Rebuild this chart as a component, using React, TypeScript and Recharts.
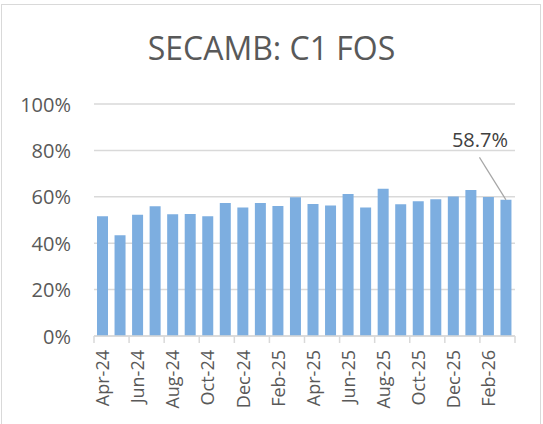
import React from 'react';
import { BarChart, Bar, XAxis, YAxis, CartesianGrid, LabelList } from 'recharts';

// monthly C1 FOS share, Apr-24 .. Mar-26
const months = [
  'Apr-24', 'May-24', 'Jun-24', 'Jul-24', 'Aug-24', 'Sep-24', 'Oct-24', 'Nov-24',
  'Dec-24', 'Jan-25', 'Feb-25', 'Mar-25', 'Apr-25', 'May-25', 'Jun-25', 'Jul-25',
  'Aug-25', 'Sep-25', 'Oct-25', 'Nov-25', 'Dec-25', 'Jan-26', 'Feb-26', 'Mar-26',
];
const fosValues = [
  51.6, 43.4, 52.3, 55.9, 52.5, 52.6, 51.6, 57.3, 55.4, 57.3, 56.0, 59.8,
  56.9, 56.3, 61.2, 55.4, 63.5, 56.8, 58.1, 58.9, 60.1, 62.9, 59.9, 58.7,
];
const yTicks = [0, 20, 40, 60, 80, 100];

const data = months.map((m, i) => ({ month: m, fos: fosValues[i] }));

const W = 543;
const H = 424;
const Y_AXIS_W = 94;
const RIGHT = 28;
const BAND = (W - Y_AXIS_W - RIGHT) / months.length;
const TEXT = '#595959';
const GRID = '#d9d9d9';
const FONT = '"Open Sans", sans-serif';

const YTick = (props: any) => {
  const { y, payload } = props;
  return (
    <text x={71} y={y} dy={7.5} textAnchor="end" fill={TEXT} fontSize={20} fontFamily={FONT}>
      {payload.value}%
    </text>
  );
};

const XTick = (props: any) => {
  const { x, y, payload } = props;
  const axisY = y - 8;
  const left = x - BAND / 2;
  const isLast = payload.value === months[months.length - 2];
  return (
    <g>
      <line x1={left} y1={axisY} x2={left} y2={axisY + 7} stroke={GRID} strokeWidth={1.5} />
      {isLast && (
        <line x1={left + BAND * 2} y1={axisY} x2={left + BAND * 2} y2={axisY + 7} stroke={GRID} strokeWidth={1.5} />
      )}
      <text
        x={x}
        y={axisY + 14}
        dy="0.36em"
        textAnchor="end"
        transform={`rotate(-90, ${x}, ${axisY + 14})`}
        fill={TEXT}
        fontSize={18}
        fontFamily={FONT}
      >
        {payload.value}
      </text>
    </g>
  );
};

const LastLabel = (props: any) => {
  const { x, y, width, index, value } = props;
  if (index !== fosValues.length - 1) return null;
  const cx = x + width / 2;
  return (
    <g>
      <line x1={cx} y1={y} x2={cx - 26.5} y2={y - 42.5} stroke="#a6a6a6" strokeWidth={1.2} />
      <text x={cx - 26} y={y - 53} textAnchor="middle" fill="#404040" fontSize={20} fontFamily={FONT}>
        {value.toFixed(1)}%
      </text>
    </g>
  );
};

export default function App() {
  return (
    <div style={{ position: 'relative', width: W, height: H, background: '#fff', overflow: 'hidden' }}>
      <style>{'body{margin:0}'}</style>
      <div
        style={{
          position: 'absolute',
          left: 1,
          top: 4,
          width: W - 3,
          height: H,
          border: `1px solid ${GRID}`,
          boxSizing: 'border-box',
        }}
      />
      <div
        style={{
          position: 'absolute',
          left: 0,
          top: 32,
          width: W,
          textAlign: 'center',
          fontFamily: FONT,
          fontSize: 32,
          lineHeight: '32px',
          color: TEXT,
        }}
      >
        SECAMB: C1 FOS
      </div>
      <BarChart
        width={W}
        height={H}
        data={data}
        margin={{ top: 104, right: RIGHT, bottom: 0, left: 0 }}
        style={{ position: 'absolute', left: 0, top: 0 }}
      >
        <CartesianGrid vertical={false} stroke={GRID} strokeWidth={1.5} />
        <XAxis
          dataKey="month"
          interval={1}
          tickLine={false}
          axisLine={{ stroke: GRID, strokeWidth: 1.5 }}
          tick={<XTick />}
          height={88}
        />
        <YAxis
          domain={[0, 100]}
          ticks={yTicks}
          axisLine={false}
          tickLine={false}
          tick={<YTick />}
          width={Y_AXIS_W}
        />
        <Bar dataKey="fos" fill="#7DAEE0" barSize={11} isAnimationActive={false}>
          <LabelList dataKey="fos" content={<LastLabel />} />
        </Bar>
      </BarChart>
    </div>
  );
}
